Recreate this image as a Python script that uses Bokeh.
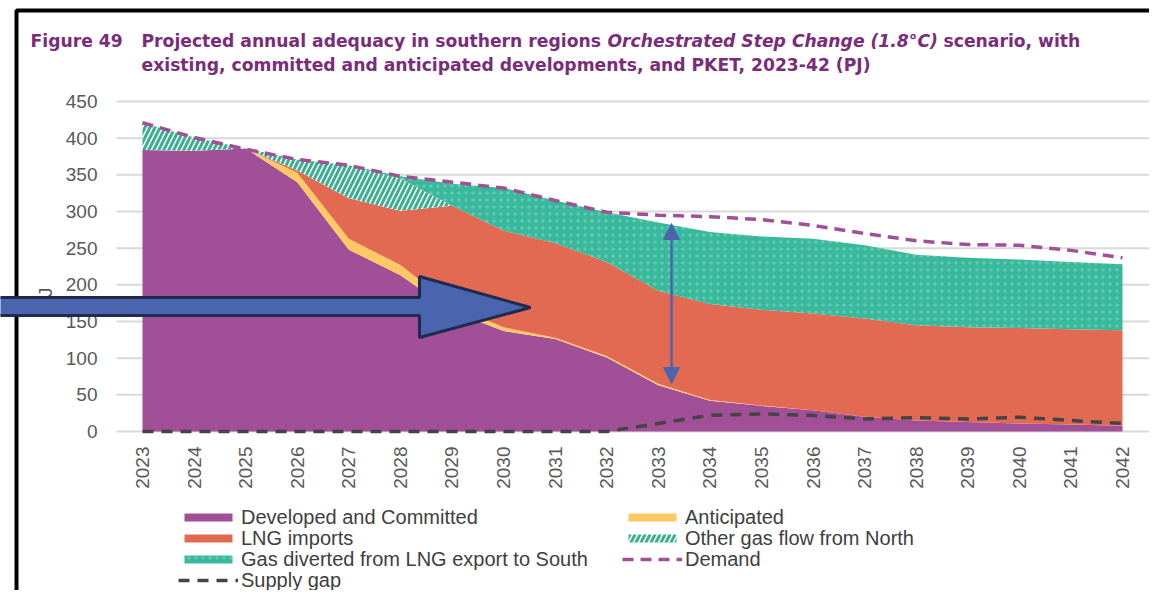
import math
from bokeh.plotting import figure
from bokeh.models import (Range1d, Legend, LegendItem, Label,
                          PolyAnnotation, Arrow, NormalHead)
from bokeh.embed import file_html
from bokeh.resources import INLINE
from bokeh.core.properties import value

# ---------------- data (PJ) ----------------
years = list(range(2023, 2043))
developed = [384, 383, 386, 340, 248, 213, 164, 137, 126, 101, 63, 42, 35, 29, 20, 15, 13, 11, 9.5, 8]
anticipated = [0, 0, 0, 13, 15, 14, 8, 5, 2, 2, 2, 1, 0.5, 0, 0, 0, 0, 0, 0, 0]
lng_imports = [0, 0, 0, 3, 55, 74, 136, 132, 129, 128, 127, 131, 130.5, 132, 134, 130, 129, 130, 130, 130]
other_north = [37, 18, 0, 15, 45, 44, 0, 0, 0, 0, 0, 0, 0, 0, 0, 0, 0, 0, 0, 0]
diverted = [0, 0, 0, 0, 0, 3, 30, 58, 58, 68, 93, 98, 100, 102, 100, 96, 95, 93.5, 91.5, 90]
demand = [421, 401, 385, 371, 363, 348, 340, 332, 315, 299, 295, 293, 289, 281, 270, 260, 255, 254, 247, 237]
supply_gap = [0, 0, 0, 0, 0, 0, 0, 0, 0, 0, 11, 22, 24, 22, 17, 19, 17, 19.5, 15, 11]
y_ticks = [0, 50, 100, 150, 200, 250, 300, 350, 400, 450]
x_labels = [str(y) for y in years]
y_labels = [str(v) for v in y_ticks]

# ---------------- layout (pixel <-> data mapping) ----------------
W, H = 1149, 590
PX_FIRST, PX_LAST = 142.0, 1122.0          # pixel of first / last year
PY_ZERO, PY_TOP = 431.0, 101.0             # pixel of 0 / 450 PJ
KX = (PX_LAST - PX_FIRST) / (years[-1] - years[0])
KY = (PY_ZERO - PY_TOP) / 450.0


def X(px):
    return years[0] + (px - PX_FIRST) / KX


def Y(py):
    return (PY_ZERO - py) / KY


PURPLE = "#A14F97"
YELLOW = "#FDC965"
ORANGE = "#E36A52"
TEAL = "#38B99C"
HATCH = "#3DAE8F"
GAPC = "#444444"
TITLEC = "#7A2C7B"
TICKC = "#595959"
LEGC = "#404040"
BLUE = "#4A65AE"

p = figure(width=W, height=H, output_backend="svg", toolbar_location=None,
           x_range=Range1d(X(0), X(W)), y_range=Range1d(Y(H), Y(0)),
           x_axis_type=None, y_axis_type=None,
           min_border=0)
p.outline_line_color = None
p.background_fill_color = "white"
p.border_fill_color = "white"
p.grid.visible = False

# gridlines
p.segment(x0=[X(116)] * len(y_ticks), x1=[X(1149)] * len(y_ticks), y0=y_ticks, y1=y_ticks,
          line_color="#D9D9D9", line_width=2)

s1 = developed
s2 = [a + b for a, b in zip(s1, anticipated)]
s3 = [a + b for a, b in zip(s2, lng_imports)]
s4 = [a + b for a, b in zip(s3, other_north)]
s5 = [a + b for a, b in zip(s4, diverted)]
zero = [0] * len(years)

r1 = p.varea(x=years, y1=zero, y2=s1, fill_color=PURPLE)
r2 = p.varea(x=years, y1=s1, y2=s2, fill_color=YELLOW)
r3 = p.varea(x=years, y1=s2, y2=s3, fill_color=ORANGE)
r4 = p.varea(x=years, y1=s3, y2=s4, fill_color="white", hatch_pattern="/",
             hatch_color=HATCH, hatch_weight=3, hatch_scale=10)
r5 = p.varea(x=years, y1=s4, y2=s5, fill_color=TEAL, hatch_pattern=".",
             hatch_color="white", hatch_alpha=0.22, hatch_scale=7, hatch_weight=1.5)
rg = p.line(years, supply_gap, line_color=GAPC, line_width=3.5, line_dash="11 8")
rd = p.line(years, demand, line_color=PURPLE, line_width=3.5, line_dash="11 7")

# tick labels
p.text(x=years, y=[Y(446)] * len(years), text=x_labels, angle=math.pi / 2,
       text_align="right", text_baseline="middle", text_font=value("Liberation Sans"),
       text_font_size="19px", text_color=TICKC)
p.text(x=[X(97)] * len(y_ticks), y=y_ticks, text=y_labels,
       text_align="right", text_baseline="middle", text_font=value("Liberation Sans"),
       text_font_size="19px", text_color=TICKC)

# y axis title
p.add_layout(Label(x=X(45), y=Y(298), text="PJ", angle=math.pi / 2,
                   text_align="center", text_baseline="middle",
                   text_font="Liberation Sans", text_font_size="19px",
                   text_color=TICKC))

# legend: one single-row legend per entry, placed on the reference rows
ROW_H = 23


def add_legend(label, renderer, px_left, py_center):
    leg = Legend(items=[LegendItem(label=label, renderers=[renderer])],
                 location=(px_left, H - (py_center + ROW_H / 2)))
    leg.label_text_font = "Liberation Sans"
    leg.label_text_font_size = "20px"
    leg.label_text_color = LEGC
    leg.glyph_width = 60
    leg.glyph_height = 10
    leg.label_height = 21
    leg.label_standoff = 3
    leg.spacing = 0
    leg.padding = 0
    leg.margin = 0
    leg.border_line_color = None
    leg.background_fill_alpha = 0
    p.add_layout(leg)


add_legend("Developed and Committed", r1, 178, 517)
add_legend("LNG imports", r3, 178, 538)
add_legend("Gas diverted from LNG export to South", r5, 178, 559)
add_legend("Supply gap", rg, 178, 580)
add_legend("Anticipated", r2, 622, 517)
add_legend("Other gas flow from North", r4, 622, 538)
add_legend("Demand", rd, 622, 559)

# title
def tlabel(px, py, text, style="bold"):
    p.add_layout(Label(x=X(px), y=Y(py), text=text, text_align="left",
                       text_baseline="middle", text_font="DejaVu Sans",
                       text_font_size="17.2px", text_font_style=style, text_color=TITLEC))


tlabel(30, 40, "Figure 49")
tlabel(141, 40, "Projected annual adequacy in southern regions")
tlabel(607, 40, "Orchestrated Step Change (1.8°C)", "bold italic")
tlabel(943, 40, "scenario, with")
tlabel(141, 64, "existing, committed and anticipated developments, and PKET, 2023-42 (PJ)")

# outer frame border (left and top edges; bottom lies below the page area)
bx = [X(1200), X(16), X(16), X(1200)]
by = [Y(10), Y(10), Y(620), Y(620)]
p.add_layout(PolyAnnotation(xs=bx, ys=by, fill_alpha=0, line_color="black",
                            line_alpha=1, line_width=4))

# block arrow annotation
ax_ = [X(-5), X(419), X(419), X(530), X(419), X(419), X(-5)]
ay_ = [Y(297), Y(297), Y(276), Y(307), Y(337), Y(315), Y(315)]
p.add_layout(PolyAnnotation(xs=ax_, ys=ay_, fill_color=BLUE, fill_alpha=1,
                            line_color="#1E2B4F", line_alpha=1, line_width=3))

# double-headed arrow
p.add_layout(Arrow(x_start=X(671), y_start=Y(383), x_end=X(671), y_end=Y(223),
                   line_color=BLUE, line_width=2.5,
                   start=NormalHead(size=16, fill_color=BLUE, line_color=BLUE),
                   end=NormalHead(size=16, fill_color=BLUE, line_color=BLUE)))

open("out.html", "w").write(file_html(p, INLINE))
